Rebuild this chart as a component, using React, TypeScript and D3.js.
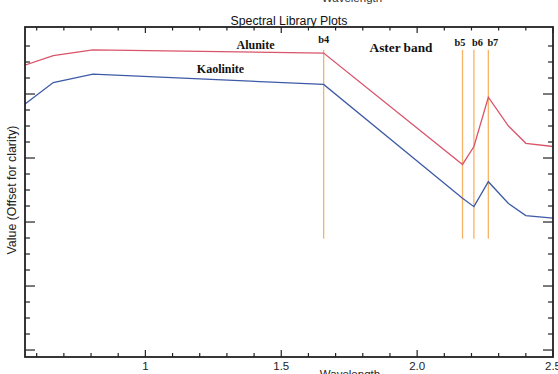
import React from 'react';
import * as d3 from 'd3';

/* ── Data ────────────────────────────────────────────────────── */
const wavelengths = [0.556, 0.661, 0.807, 1.656, 2.167, 2.209, 2.262, 2.336, 2.4, 2.5];
const alunite = [4.45, 4.6, 4.69, 4.64, 2.9, 3.18, 3.95, 3.5, 3.23, 3.18];
const kaolinite = [3.84, 4.18, 4.31, 4.15, 2.37, 2.24, 2.63, 2.29, 2.1, 2.06];

const bandNames = ['b4', 'b5', 'b6', 'b7'];
const bandCenters = [1.656, 2.167, 2.209, 2.262];
const bandSpan = [1.74, 4.69];

const xMajorTicks = [1, 1.5, 2, 2.5];
const xMajorLabels = ['1', '1.5', '2.0', '2.5'];
const xMinorTicks = [0.6, 0.7, 0.8, 0.9, 1.1, 1.2, 1.3, 1.4, 1.6, 1.7, 1.8, 1.9, 2.1, 2.2, 2.3, 2.4];
const yMajorTicks = [0, 1, 2, 3, 4];
const yMinorTicks = [0.25, 0.5, 0.75, 1.25, 1.5, 1.75, 2.25, 2.5, 2.75, 3.25, 3.5, 3.75, 4.25, 4.5, 4.75];

const W = 558;
const H = 374;
const frame = { left: 25, right: 553, top: 27, bottom: 357 };

const RED = '#d9546a';
const BLUE = '#3d5aa6';
const ORANGE = '#f6b366';
const AXIS = '#222';

// band label nudges so b5/b6/b7 don't collide
const labelDx = [0, -2.5, 3.5, 4.5];

export default function App() {
  const x = d3.scaleLinear().domain([0.557, 2.5]).range([frame.left, frame.right]);
  const y = d3.scaleLinear().domain([-0.109, 5.047]).range([frame.bottom, frame.top]);

  const line = d3
    .line<number>()
    .x((_, i) => x(wavelengths[i]))
    .y(d => y(d));

  const sans = "'Liberation Sans', Arial, sans-serif";
  const serif = "'Liberation Serif', 'Times New Roman', serif";

  return (
    <svg
      width={W}
      height={H}
      style={{ position: 'absolute', left: 0, top: 0, background: '#fff' }}
    >
      <defs>
        <clipPath id="plot">
          <rect x={frame.left} y={frame.top} width={frame.right - frame.left} height={frame.bottom - frame.top} />
        </clipPath>
      </defs>

      {/* clipped leftover axis title from figure above */}
      <text x={352} y={2} textAnchor="middle" fontFamily={sans} fontSize={11.5} fill="#333">
        Wavelength
      </text>

      <text x={(frame.left + frame.right) / 2} y={24.5} textAnchor="middle" fontFamily={sans} fontSize={12.3} fill="#111">
        Spectral Library Plots
      </text>

      {/* band markers + spectra */}
      <g clipPath="url(#plot)">
        {bandCenters.map((b, i) => (
          <line
            key={bandNames[i]}
            x1={x(b)}
            x2={x(b)}
            y1={y(bandSpan[0])}
            y2={y(bandSpan[1])}
            stroke={ORANGE}
            strokeWidth={1.3}
          />
        ))}
        <path d={line(alunite) ?? ''} fill="none" stroke={RED} strokeWidth={1.3} />
        <path d={line(kaolinite) ?? ''} fill="none" stroke={BLUE} strokeWidth={1.3} />
      </g>

      {bandCenters.map((b, i) => (
        <text
          key={'l' + bandNames[i]}
          x={x(b) + labelDx[i]}
          y={i === 0 ? 43 : 46}
          textAnchor="middle"
          fontFamily={serif}
          fontWeight="bold"
          fontSize={10.3}
          fill="#111"
        >
          {bandNames[i]}
        </text>
      ))}

      <text x={255.5} y={48.5} textAnchor="middle" fontFamily={serif} fontWeight="bold" fontSize={12} fill="#111">
        Alunite
      </text>
      <text x={220.5} y={73} textAnchor="middle" fontFamily={serif} fontWeight="bold" fontSize={12} fill="#111">
        Kaolinite
      </text>
      <text x={401} y={51.5} textAnchor="middle" fontFamily={serif} fontWeight="bold" fontSize={13.3} fill="#111">
        Aster band
      </text>

      {/* ticks, all pointing inward */}
      <g stroke={AXIS} strokeWidth={1.2}>
        {xMinorTicks.map(t => (
          <g key={'xm' + t}>
            <line x1={x(t)} x2={x(t)} y1={frame.bottom} y2={frame.bottom - 4} />
            <line x1={x(t)} x2={x(t)} y1={frame.top} y2={frame.top + 3.5} />
          </g>
        ))}
        {xMajorTicks.map(t => (
          <g key={'xM' + t}>
            <line x1={x(t)} x2={x(t)} y1={frame.bottom} y2={frame.bottom - 7} />
            <line x1={x(t)} x2={x(t)} y1={frame.top} y2={frame.top + 6} />
          </g>
        ))}
        {yMinorTicks.map(t => (
          <g key={'ym' + t}>
            <line x1={frame.left} x2={frame.left + 5} y1={y(t)} y2={y(t)} />
            <line x1={frame.right} x2={frame.right - 5} y1={y(t)} y2={y(t)} />
          </g>
        ))}
        {yMajorTicks.map(t => (
          <g key={'yM' + t}>
            <line x1={frame.left} x2={frame.left + 10} y1={y(t)} y2={y(t)} />
            <line x1={frame.right} x2={frame.right - 10} y1={y(t)} y2={y(t)} />
          </g>
        ))}
      </g>

      <rect
        x={frame.left}
        y={frame.top}
        width={frame.right - frame.left}
        height={frame.bottom - frame.top}
        fill="none"
        stroke={AXIS}
        strokeWidth={1.8}
      />

      {xMajorTicks.map((t, i) => (
        <text key={'xl' + t} x={x(t)} y={370} textAnchor="middle" fontFamily={sans} fontSize={11.5} fill="#222">
          {xMajorLabels[i]}
        </text>
      ))}

      <text x={350} y={378} textAnchor="middle" fontFamily={sans} fontSize={11.5} fill="#222">
        Wavelength
      </text>

      <text
        transform={`translate(16,190) rotate(-90)`}
        textAnchor="middle"
        fontFamily={sans}
        fontSize={12.4}
        fill="#222"
      >
        Value (Offset for clarity)
      </text>
    </svg>
  );
}
